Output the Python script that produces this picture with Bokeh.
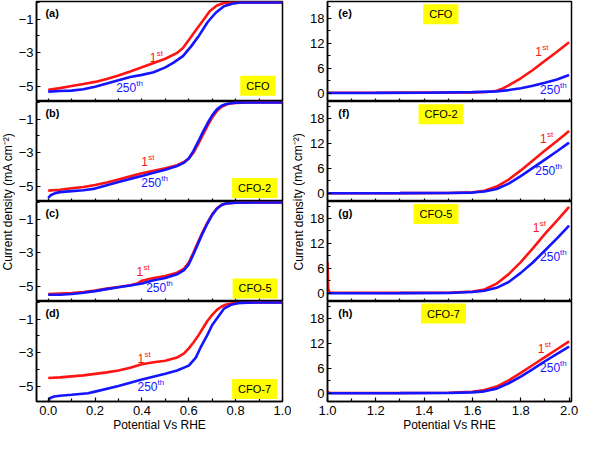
from bokeh.plotting import figure
from bokeh.models import Range1d, FixedTicker, Label, PrintfTickFormatter
from bokeh.layouts import row, column
from bokeh.embed import file_html
from bokeh.resources import INLINE

FONT = "Liberation Sans"
RED = "#ff1414"
BLUE = "#1414ff"

# ---------------- data: ORR (left column) ----------------
xa_1 = [0.0, 0.05, 0.1, 0.15, 0.2, 0.25, 0.3, 0.35, 0.4, 0.45, 0.5, 0.55, 0.575, 0.6, 0.63, 0.66, 0.69, 0.72, 0.75, 0.8, 0.9, 1.0]
ya_1 = [-5.22, -5.12, -5.0, -4.88, -4.75, -4.57, -4.37, -4.13, -3.88, -3.62, -3.37, -3.02, -2.73, -2.25, -1.67, -1.1, -0.52, -0.19, -0.04, 0.0, 0.0, 0.0]
xa_250 = [0.0, 0.05, 0.1, 0.15, 0.2, 0.25, 0.3, 0.35, 0.4, 0.45, 0.5, 0.535, 0.575, 0.61, 0.645, 0.68, 0.715, 0.75, 0.785, 0.825, 0.9, 1.0]
ya_250 = [-5.33, -5.29, -5.27, -5.19, -5.04, -4.85, -4.65, -4.46, -4.33, -4.17, -3.88, -3.6, -3.21, -2.63, -1.96, -1.19, -0.62, -0.23, -0.08, 0.0, 0.0, 0.0]

xb_1 = [0.0, 0.05, 0.1, 0.15, 0.2, 0.25, 0.3, 0.35, 0.4, 0.45, 0.5, 0.55, 0.58, 0.6, 0.62, 0.64, 0.66, 0.68, 0.7, 0.72, 0.74, 0.76, 0.78, 0.8, 0.85, 0.9, 1.0]
yb_1 = [-5.27, -5.22, -5.13, -5.05, -4.94, -4.78, -4.6, -4.42, -4.23, -4.08, -3.94, -3.75, -3.55, -3.35, -3.0, -2.5, -1.95, -1.4, -0.9, -0.52, -0.27, -0.13, -0.06, -0.03, -0.01, 0.0, 0.0]
xb_250 = [0.0, 0.01, 0.03, 0.05, 0.1, 0.15, 0.2, 0.25, 0.3, 0.35, 0.4, 0.45, 0.5, 0.55, 0.58, 0.6, 0.62, 0.64, 0.66, 0.68, 0.7, 0.72, 0.74, 0.76, 0.78, 0.8, 0.85, 1.0]
yb_250 = [-5.71, -5.55, -5.42, -5.36, -5.3, -5.25, -5.15, -4.95, -4.75, -4.57, -4.4, -4.2, -4.02, -3.8, -3.6, -3.35, -2.9, -2.35, -1.78, -1.25, -0.78, -0.42, -0.2, -0.1, -0.05, -0.02, 0.0, 0.0]

xc_1 = [0.0, 0.1, 0.15, 0.2, 0.25, 0.3, 0.35, 0.38, 0.4, 0.45, 0.5, 0.55, 0.58, 0.6, 0.62, 0.64, 0.66, 0.68, 0.7, 0.72, 0.74, 0.76, 0.8, 0.9, 1.0]
yc_1 = [-5.48, -5.42, -5.35, -5.27, -5.15, -5.05, -4.95, -4.85, -4.68, -4.52, -4.4, -4.2, -3.95, -3.6, -3.0, -2.35, -1.75, -1.2, -0.72, -0.35, -0.15, -0.06, -0.02, 0.0, 0.0]
xc_250 = [0.0, 0.05, 0.1, 0.15, 0.2, 0.25, 0.3, 0.35, 0.4, 0.45, 0.5, 0.55, 0.58, 0.6, 0.62, 0.64, 0.66, 0.68, 0.7, 0.72, 0.74, 0.76, 0.8, 0.9, 1.0]
yc_250 = [-5.52, -5.52, -5.47, -5.4, -5.3, -5.18, -5.07, -4.97, -4.85, -4.65, -4.52, -4.3, -4.05, -3.7, -3.1, -2.45, -1.82, -1.25, -0.75, -0.38, -0.16, -0.07, -0.02, 0.0, 0.0]

xd_1 = [0.0, 0.05, 0.1, 0.15, 0.2, 0.25, 0.3, 0.35, 0.4, 0.45, 0.5, 0.55, 0.58, 0.6, 0.62, 0.64, 0.66, 0.68, 0.7, 0.72, 0.74, 0.76, 0.78, 0.8, 0.9, 1.0]
yd_1 = [-4.52, -4.48, -4.42, -4.36, -4.27, -4.18, -4.07, -3.9, -3.7, -3.58, -3.49, -3.3, -3.05, -2.75, -2.4, -2.0, -1.55, -1.1, -0.75, -0.45, -0.25, -0.13, -0.07, -0.04, 0.0, 0.0]
xd_250 = [0.0, 0.007, 0.025, 0.05, 0.1, 0.17, 0.2, 0.3, 0.4, 0.5, 0.55, 0.6, 0.63, 0.65, 0.68, 0.7, 0.73, 0.75, 0.78, 0.82, 0.9, 1.0]
yd_250 = [-6.0, -5.72, -5.62, -5.58, -5.52, -5.43, -5.33, -5.0, -4.61, -4.26, -4.07, -3.78, -3.3, -2.71, -1.93, -1.35, -0.77, -0.38, -0.15, -0.03, 0.0, 0.0]

# ---------------- data: OER (right column) ----------------
xe_1 = [1.0, 1.2, 1.4, 1.6, 1.66, 1.68, 1.7, 1.72, 1.75, 1.8, 1.85, 1.9, 1.95, 2.0]
ye_1 = [0.1, 0.1, 0.15, 0.2, 0.3, 0.4, 0.6, 1.0, 1.9, 3.6, 5.6, 7.8, 10.0, 12.3]
xe_250 = [1.0, 1.2, 1.4, 1.6, 1.7, 1.75, 1.8, 1.85, 1.9, 1.95, 2.0]
ye_250 = [0.05, 0.08, 0.12, 0.25, 0.45, 0.75, 1.2, 1.8, 2.5, 3.3, 4.4]

xf_1 = [1.0, 1.3, 1.5, 1.6, 1.65, 1.7, 1.75, 1.8, 1.85, 1.9, 1.95, 2.0]
yf_1 = [0.0, 0.02, 0.05, 0.2, 0.6, 1.6, 3.3, 5.5, 7.9, 10.3, 12.6, 15.0]
xf_250 = [1.0, 1.3, 1.5, 1.6, 1.65, 1.7, 1.75, 1.8, 1.85, 1.9, 1.95, 2.0]
yf_250 = [0.0, 0.02, 0.05, 0.15, 0.4, 1.0, 2.3, 4.1, 6.1, 8.1, 10.1, 12.2]

xg_1 = [1.0, 1.003, 1.01, 1.3, 1.5, 1.6, 1.65, 1.7, 1.75, 1.8, 1.85, 1.9, 1.95, 2.0]
yg_1 = [7.5, 1.0, 0.1, 0.08, 0.1, 0.4, 0.9, 2.3, 4.6, 7.5, 10.8, 14.3, 17.5, 20.8]
xg_250 = [1.0, 1.3, 1.5, 1.6, 1.65, 1.7, 1.75, 1.8, 1.85, 1.9, 1.95, 2.0]
yg_250 = [0.0, 0.02, 0.05, 0.3, 0.6, 1.3, 2.7, 4.9, 7.4, 10.3, 13.2, 16.3]

xh_1 = [1.0, 1.01, 1.3, 1.5, 1.6, 1.65, 1.7, 1.75, 1.8, 1.85, 1.9, 1.95, 2.0]
yh_1 = [0.3, 0.05, 0.05, 0.1, 0.35, 0.75, 1.6, 3.1, 4.9, 6.8, 8.7, 10.6, 12.5]
xh_250 = [1.0, 1.3, 1.5, 1.6, 1.65, 1.7, 1.75, 1.8, 1.85, 1.9, 1.95, 2.0]
yh_250 = [0.0, 0.02, 0.05, 0.2, 0.45, 1.1, 2.4, 4.0, 5.8, 7.7, 9.5, 11.2]

panel_tags = ["(a)", "(b)", "(c)", "(d)", "(e)", "(f)", "(g)", "(h)"]
sample_names = ["CFO", "CFO-2", "CFO-5", "CFO-7", "CFO", "CFO-2", "CFO-5", "CFO-7"]

left_xticks = [0.0, 0.2, 0.4, 0.6, 0.8, 1.0]
left_xminor = [0.1, 0.3, 0.5, 0.7, 0.9]
left_xall = [0.0, 0.1, 0.2, 0.3, 0.4, 0.5, 0.6, 0.7, 0.8, 0.9, 1.0]
left_yticks = [-1, -3, -5]
left_yminor = [0, -2, -4]
right_xticks = [1.0, 1.2, 1.4, 1.6, 1.8, 2.0]
right_xminor = [1.1, 1.3, 1.5, 1.7, 1.9]
right_xall = [1.0, 1.1, 1.2, 1.3, 1.4, 1.5, 1.6, 1.7, 1.8, 1.9, 2.0]
right_yticks = [0, 6, 12, 18]
right_yminor = [3, 9, 15, 21]

# ---------------- layout settings ----------------
FH = 100
BOTTOM = 34
LW, RW = 246, 244
LEFT_B, RIGHT_B = 16, 22

def make_panel(side, idx, bottom):
    left = side == "L"
    xr = Range1d(-0.05, 1.0) if left else Range1d(1.0, 2.01)
    yr = Range1d(-5.92, 0.05) if left else Range1d(-2.0, 22.1)
    p = figure(frame_width=LW if left else RW, frame_height=FH,
               x_range=xr, y_range=yr, output_backend="svg", toolbar_location=None,
               min_border_left=LEFT_B if left else RIGHT_B,
               min_border_right=9 if left else 10,
               min_border_top=1 if idx == 0 else 0,
               min_border_bottom=BOTTOM if bottom else 0)
    p.xgrid.visible = False
    p.ygrid.visible = False
    p.outline_line_color = "black"
    p.outline_line_width = 1.5
    p.background_fill_color = "white"
    p.border_fill_color = "white"
    if bottom:
        p.xaxis.ticker = FixedTicker(ticks=left_xticks if left else right_xticks,
                                     minor_ticks=left_xminor if left else right_xminor)
    else:
        p.xaxis.ticker = FixedTicker(ticks=[], minor_ticks=left_xall if left else right_xall)
    p.yaxis.ticker = FixedTicker(ticks=left_yticks if left else right_yticks,
                                 minor_ticks=left_yminor if left else right_yminor)
    p.xaxis.formatter = PrintfTickFormatter(format="%.1f")
    for ax in (p.xaxis, p.yaxis):
        ax.major_tick_in = 4
        ax.major_tick_out = 0
        ax.minor_tick_in = 3
        ax.minor_tick_out = 0
        ax.axis_line_color = "black"
        ax.axis_line_width = 1.5
        ax.major_tick_line_color = "black"
        ax.minor_tick_line_color = "black"
        ax.major_tick_line_width = 1.2
        ax.minor_tick_line_width = 1.2
        ax.major_label_text_font = FONT
        ax.major_label_text_font_size = "13px"
        ax.major_label_text_color = "black"
        ax.major_label_standoff = 3
    if bottom:
        p.xaxis.axis_label = "Potential Vs RHE"
        p.xaxis.axis_label_text_font = FONT
        p.xaxis.axis_label_text_font_size = "12px"
        p.xaxis.axis_label_text_font_style = "normal"
        p.xaxis.axis_label_text_color = "black"
        p.xaxis.axis_label_standoff = 0
        p.xaxis.major_label_standoff = 4
    else:
        p.xaxis.major_label_standoff = 0
    return p

def sample_box(p, x, y, name):
    p.add_layout(Label(x=x, y=y, text=name, text_font=FONT, text_font_size="11px",
                       text_font_style="normal",
                       text_color="black", text_align="center", text_baseline="middle",
                       background_fill_color="#ffff00",
                       padding=dict(left=6, right=6, top=4, bottom=4)))

def tag(p, x, y, t):
    p.add_layout(Label(x=x, y=y, text=t, text_font=FONT, text_font_size="11px",
                       text_font_style="bold", text_color="black", text_baseline="middle"))

def cycle_label(p, x, y, main, sup, color, w):
    p.add_layout(Label(x=x, y=y, text=main, text_font=FONT, text_font_size="12px",
                       text_color=color, text_baseline="middle", text_align="left"))
    p.add_layout(Label(x=x, y=y, x_offset=w, y_offset=4, text=sup, text_font=FONT,
                       text_font_size="8px", text_color=color, text_baseline="middle",
                       text_align="left"))

left_data = [(xa_1, ya_1, xa_250, ya_250), (xb_1, yb_1, xb_250, yb_250),
             (xc_1, yc_1, xc_250, yc_250), (xd_1, yd_1, xd_250, yd_250)]
right_data = [(xe_1, ye_1, xe_250, ye_250), (xf_1, yf_1, xf_250, yf_250),
              (xg_1, yg_1, xg_250, yg_250), (xh_1, yh_1, xh_250, yh_250)]

left_box_pos = [(0.895, -4.98), (0.881, -5.11), (0.883, -5.14), (0.881, -5.17)]
right_box_pos = [(1.469, 19.0), (1.470, 19.0), (1.449, 19.1), (1.48, 19.2)]
left_first_pos = [(0.433, -3.28), (0.397, -3.56), (0.377, -4.13), (0.381, -3.33)]
left_250_pos = [(0.29, -5.09), (0.397, -4.77), (0.418, -5.06), (0.381, -5.03)]
right_first_pos = [(1.86, 10.0), (1.88, 13.1), (1.85, 15.8), (1.87, 10.8)]
right_250_pos = [(1.88, 1.0), (1.86, 5.4), (1.88, 8.8), (1.88, 6.1)]

left_panels, right_panels = [], []
for i in range(4):
    p = make_panel("L", i, i == 3)
    x1, y1, x2, y2 = left_data[i]
    p.line(x1, y1, line_color=RED, line_width=2.6)
    p.line(x2, y2, line_color=BLUE, line_width=2.6)
    tag(p, -0.012, -0.62, panel_tags[i])
    sample_box(p, *left_box_pos[i], sample_names[i])
    cycle_label(p, *left_first_pos[i], "1", "st", RED, 7)
    cycle_label(p, *left_250_pos[i], "250", "th", BLUE, 20)
    left_panels.append(p)

    q = make_panel("R", i, i == 3)
    x1, y1, x2, y2 = right_data[i]
    q.line(x1, y1, line_color=RED, line_width=2.6)
    q.line(x2, y2, line_color=BLUE, line_width=2.6)
    tag(q, 1.045, 19.4, panel_tags[4 + i])
    sample_box(q, *right_box_pos[i], sample_names[4 + i])
    cycle_label(q, *right_first_pos[i], "1", "st", RED, 7)
    cycle_label(q, *right_250_pos[i], "250", "th", BLUE, 20)
    right_panels.append(q)

TOTAL_H = 1 + 4 * FH + BOTTOM
CENTER_FROM_BOTTOM = TOTAL_H - (1 + 2 * FH)

def title_fig(w, xc):
    t = figure(width=w, height=TOTAL_H, x_range=Range1d(0, w), y_range=Range1d(0, TOTAL_H),
               x_axis_type=None, y_axis_type=None, output_backend="svg", toolbar_location=None,
               min_border=0)
    t.outline_line_color = None
    t.xgrid.visible = False
    t.ygrid.visible = False
    t.add_layout(Label(x=xc, y=CENTER_FROM_BOTTOM, text="Current density (mA cm\u207b\u00b2)",
                       text_font=FONT, text_font_size="12px", text_color="black",
                       angle=1.5708, text_align="center", text_baseline="middle"))
    return t

lt = title_fig(15, 7.5)
rt = title_fig(14, 7)

layout = row(lt, column(*left_panels), rt, column(*right_panels))

open("out.html", "w").write(file_html(layout, INLINE))
